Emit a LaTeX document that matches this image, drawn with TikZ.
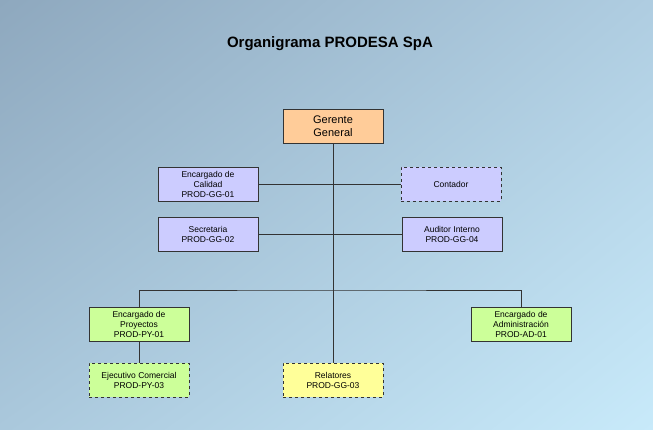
\documentclass[tikz,border=0pt]{standalone}
\usepackage{fontspec}
\setmainfont{Liberation Sans}
\usetikzlibrary{shadings}
\begin{document}
\begin{tikzpicture}[x=1pt,y=-1pt,
 box/.style={draw=black!80,minimum width=100pt,minimum height=34pt,align=center,font=\fontsize{8.5}{10}\selectfont,inner sep=1pt},
 purp/.style={box,fill={rgb,255:red,204;green,204;blue,255}},
 grn/.style={box,fill={rgb,255:red,204;green,255;blue,153}},
 yel/.style={box,fill={rgb,255:red,255;green,255;blue,153}},
 dsh/.style={dashed},
 ln/.style={draw=black!80,line width=0.6pt}]
\definecolor{bgA}{RGB}{142,168,190}
\definecolor{bgB}{RGB}{200,234,250}
\definecolor{bgC}{RGB}{175,205,225}
\definecolor{bgD}{RGB}{170,200,220}
\useasboundingbox (0,0) rectangle (653,430);
\shade[upper left=bgA,upper right=bgC,lower left=bgD,lower right=bgB] (0,0) rectangle (653,430);
\node[font=\bfseries\fontsize{15}{18}\selectfont] (title) at (330,44) {Organigrama PRODESA SpA};
\node[box,fill={rgb,255:red,255;green,204;blue,153},font=\fontsize{11}{13}\selectfont] (gg) at (333,126) {Gerente\\General};
\node[purp] (cal) at (208,184.5) {Encargado de\\Calidad\\PROD-GG-01};
\node[purp,dsh] (con) at (451,184.5) {Contador};
\node[purp] (sec) at (208,234) {Secretaria\\PROD-GG-02};
\node[purp] (aud) at (452,234) {Auditor Interno\\PROD-GG-04};
\node[grn] (pro) at (139,324) {Encargado de\\Proyectos\\PROD-PY-01};
\node[grn] (adm) at (521,324) {Encargado de\\Administración\\PROD-AD-01};
\node[grn,dsh] (eje) at (139,380) {Ejecutivo Comercial\\PROD-PY-03};
\node[yel,dsh] (rel) at (333,380) {Relatores\\PROD-GG-03};
\coordinate (j) at (333,290);
\draw[ln] (gg) -- (rel);
\draw[ln] (cal) -- (con);
\draw[ln] (sec) -- (aud);
\draw[ln] (pro.north) |- (j) -| (adm.north);
\draw[ln] (pro) -- (eje);
\end{tikzpicture}
\end{document}
